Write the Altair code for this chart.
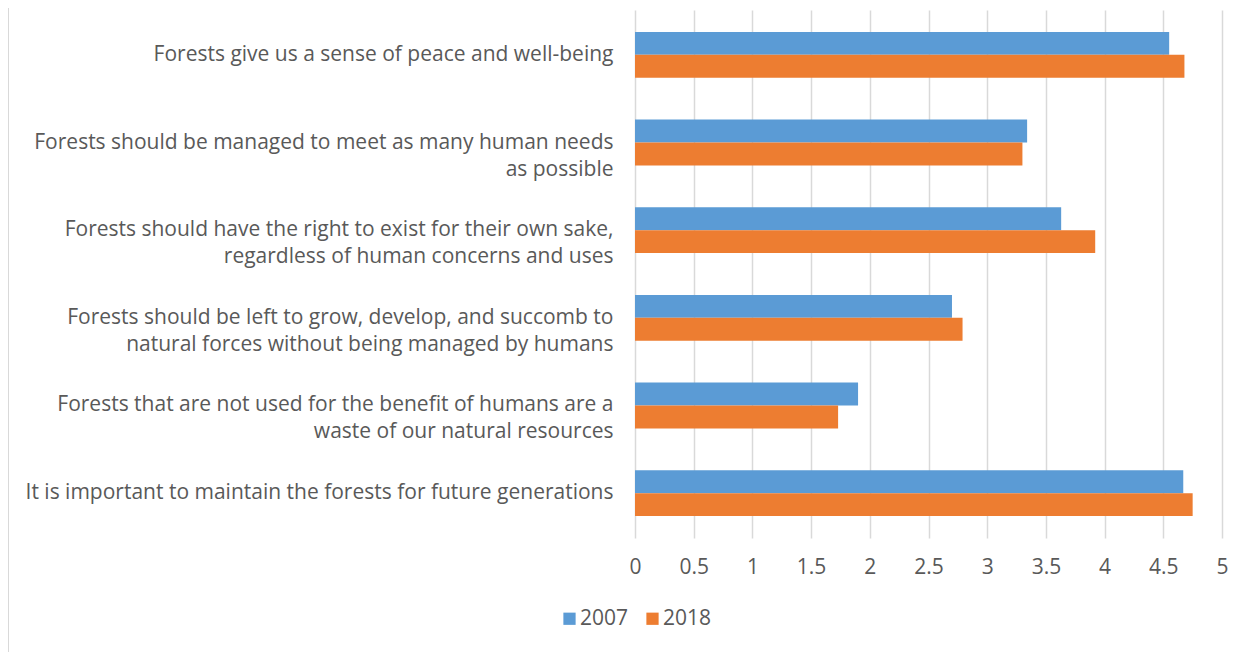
import altair as alt
import pandas as pd

statements = [
    "Forests give us a sense of peace and well-being",
    "Forests should be managed to meet as many human needs|as possible",
    "Forests should have the right to exist for their own sake,|regardless of human concerns and uses",
    "Forests should be left to grow, develop, and succomb to|natural forces without being managed by humans",
    "Forests that are not used for the benefit of humans are a|waste of our natural resources",
    "It is important to maintain the forests for future generations",
]
years = ["2007", "2018"]
values_2007 = [4.55, 3.34, 3.63, 2.70, 1.90, 4.67]
values_2018 = [4.68, 3.30, 3.92, 2.79, 1.73, 4.75]

rows = []
for s, a, b in zip(statements, values_2007, values_2018):
    rows.append({"statement": s, "year": years[0], "value": a})
    rows.append({"statement": s, "year": years[1], "value": b})
df = pd.DataFrame(rows)

FONT = "Open Sans"
GREY = "#595959"
FS = 21

bars = alt.Chart(df).mark_bar().encode(
    y=alt.Y("statement:N", sort=statements, title=None,
            scale=alt.Scale(paddingInner=0.477, paddingOuter=0.25),
            axis=alt.Axis(labelExpr="split(datum.label, '|')", labelFontSize=FS,
                          labelColor=GREY, labelFont=FONT, labelLimit=700,
                          labelPadding=22, labelLineHeight=27, ticks=False,
                          domain=False, grid=False)),
    yOffset=alt.YOffset("year:N", sort=years, scale=alt.Scale(paddingInner=0, paddingOuter=0)),
    x=alt.X("value:Q", title=None,
            scale=alt.Scale(domain=[0, 5], nice=False),
            axis=alt.Axis(values=[0, 0.5, 1, 1.5, 2, 2.5, 3, 3.5, 4, 4.5, 5],
                          labelFontSize=FS, labelColor=GREY, labelFont=FONT,
                          labelPadding=18, ticks=False, domain=False, labelFlush=False,
                          labelAlign="center",
                          grid=True, gridColor="#d9d9d9", gridWidth=1.5,
                          labelExpr="datum.value")),
    color=alt.Color("year:N", sort=years,
                    scale=alt.Scale(domain=years, range=["#5B9BD5", "#ED7D31"]),
                    legend=alt.Legend(title=None, orient="none", legendX=-76, legendY=598,
                                      direction="horizontal", symbolType="square",
                                      symbolSize=150, symbolStrokeWidth=0,
                                      labelFontSize=FS, labelColor=GREY, labelFont=FONT,
                                      labelOffset=0, columnPadding=13)),
)

border = alt.Chart(pd.DataFrame({"v": [0]})).mark_rule(color="#d9d9d9", strokeWidth=2).encode(
    x=alt.value(-627), y=alt.value(-10), y2=alt.value(644)
)

chart = alt.layer(bars, border).properties(
    width=587, height=528,
    autosize=alt.AutoSizeParams(type="none"),
    padding={"left": 627, "top": 2, "right": 23, "bottom": 114},
).configure_view(stroke=None)

chart.save("out.html", embed_options={"renderer": "svg", "actions": False})
